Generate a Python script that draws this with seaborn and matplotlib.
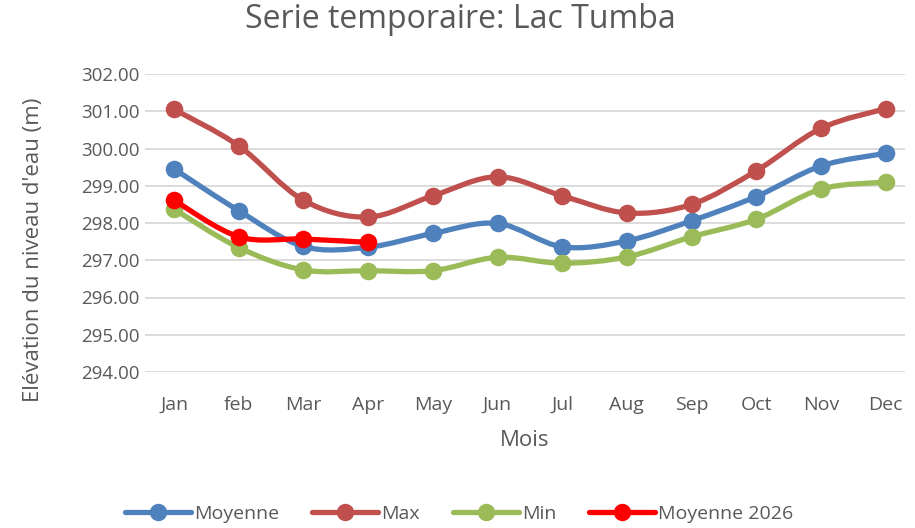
import numpy as np
import pandas as pd
import matplotlib
matplotlib.use("Agg")
import matplotlib.pyplot as plt
from matplotlib.path import Path
from matplotlib.patches import PathPatch
from matplotlib.lines import Line2D
import seaborn as sns

months = ["Jan", "feb", "Mar", "Apr", "May", "Jun", "Jul", "Aug", "Sep", "Oct", "Nov", "Dec"]
moyenne = [299.45, 298.33, 297.37, 297.35, 297.72, 297.99, 297.36, 297.52, 298.06, 298.71, 299.53, 299.87]
maxi = [301.05, 300.07, 298.61, 298.16, 298.73, 299.24, 298.73, 298.27, 298.50, 299.40, 300.54, 301.07]
mini = [298.37, 297.34, 296.74, 296.72, 296.72, 297.08, 296.92, 297.09, 297.63, 298.10, 298.91, 299.10]
moy2026 = [298.61, 297.63, 297.57, 297.48]

series = [("Moyenne", moyenne, "#4F81BD"),
          ("Max", maxi, "#C0504D"),
          ("Min", mini, "#9BBB59"),
          ("Moyenne 2026", moy2026, "#FF0000")]

sns.set_theme(style="white")
plt.rcParams["font.family"] = ["Open Sans", "DejaVu Sans"]
text_color = "#595959"

fig = plt.figure(figsize=(9.15, 5.28), dpi=100)
ax = fig.add_axes([145 / 915, 1 - 372 / 528, (905 - 145) / 915, (372 - 74) / 528])


def smooth_path(xs, ys):
    xs = np.asarray(xs, float)
    ys = np.asarray(ys, float)
    n = len(xs)
    verts = [(xs[0], ys[0])]
    codes = [Path.MOVETO]
    for i in range(n - 1):
        x0, y0 = (xs[i - 1], ys[i - 1]) if i > 0 else (xs[i], ys[i])
        x3, y3 = (xs[i + 2], ys[i + 2]) if i + 2 < n else (xs[i + 1], ys[i + 1])
        c1 = (xs[i] + (xs[i + 1] - x0) / 6, ys[i] + (ys[i + 1] - y0) / 6)
        c2 = (xs[i + 1] - (x3 - xs[i]) / 6, ys[i + 1] - (y3 - ys[i]) / 6)
        verts += [c1, c2, (xs[i + 1], ys[i + 1])]
        codes += [Path.CURVE4] * 3
    return Path(verts, codes)


rows = []
for name, vals, col in series:
    for i, v in enumerate(vals):
        rows.append({"x": i, "y": v, "serie": name})
df = pd.DataFrame(rows)

handles = []
for z, (name, vals, col) in enumerate(series):
    xs = np.arange(len(vals))
    patch = PathPatch(smooth_path(xs, vals), fill=False, edgecolor=col, lw=3.8,
                      capstyle="round", joinstyle="round", zorder=3 + z)
    ax.add_patch(patch)
    sub = df[df.serie == name]
    sns.scatterplot(data=sub, x="x", y="y", color=col, s=160, edgecolor=col,
                    linewidth=0, ax=ax, zorder=3.5 + z, legend=False)
    handles.append(Line2D([], [], color=col, lw=3.8, marker="o", markersize=11.5,
                          label=name))

ax.set_xlim(-0.45, 11.3)
ax.set_ylim(294, 302)
ax.set_yticks(np.arange(294, 302.01, 1))
ax.set_yticklabels([f"{v:.2f}" for v in np.arange(294, 302.01, 1)])
ax.set_xticks(range(12))
ax.set_xticklabels(months)
ax.yaxis.grid(True, color="#D9D9D9", lw=1.3)
ax.xaxis.grid(False)
for s in ax.spines.values():
    s.set_visible(False)
ax.tick_params(axis="both", colors=text_color, length=0)
ax.tick_params(axis="y", labelsize=13.5, pad=4)
ax.tick_params(axis="x", labelsize=14, pad=17)
ax.set_xlabel("Mois", fontsize=16, color=text_color)
ax.set_ylabel("Elévation du niveau d'eau (m)", fontsize=16, color=text_color)
ax.xaxis.label.set_va("center")
ax.yaxis.label.set_va("center")
ax.xaxis.set_label_coords(0.5, (372 - 441) / 298)
ax.yaxis.set_label_coords((33 - 145) / 760, (372 - 250) / 298)
fig.text(0.503, 1 - 20 / 528, "Serie temporaire: Lac Tumba", fontsize=23,
         color=text_color, ha="center", va="center")

fig.legend(handles=handles, loc="center", bbox_to_anchor=(0.502, 1 - 514 / 528), ncol=4,
           frameon=False, fontsize=14, labelcolor=text_color, handlelength=3.4,
           handletextpad=0.15, columnspacing=1.7)

fig.savefig("out.png", dpi=100)
